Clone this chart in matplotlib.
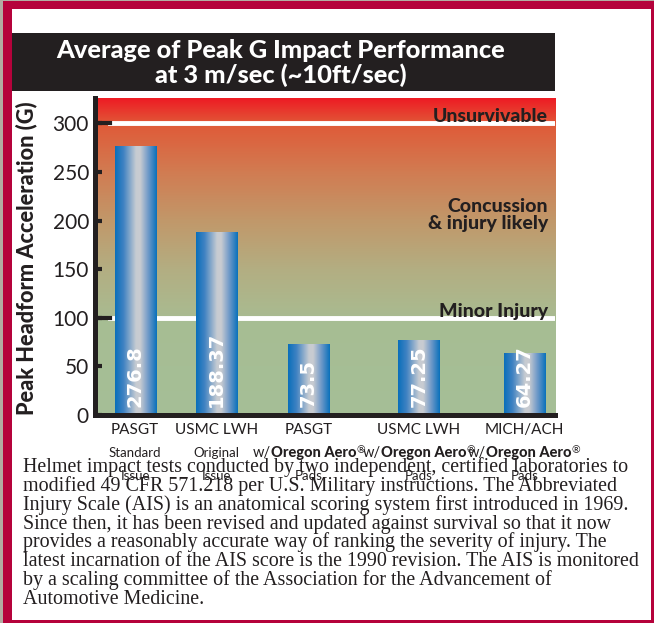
import matplotlib
matplotlib.use("Agg")
import matplotlib.pyplot as plt
import matplotlib.font_manager as fm
from matplotlib.colors import LinearSegmentedColormap
from matplotlib.patches import Rectangle
from matplotlib.offsetbox import TextArea, HPacker, AnnotationBbox
import numpy as np

# data
helmets = ["PASGT", "USMC LWH", "PASGT", "USMC LWH", "MICH/ACH"]
versions = ["Standard", "Original", "Oregon Aero", "Oregon Aero", "Oregon Aero"]
versions2 = ["Issue", "Issue", "Pads", "Pads", "Pads"]
peak_g = [276.8, 188.37, 73.5, 77.25, 64.27]
value_labels = ["276.8", "188.37", "73.5", "77.25", "64.27"]
y_ticks = [0, 50, 100, 150, 200, 250, 300]
zone_limits = [100, 300]
zone_names = ["Minor Injury", "Concussion\n& injury likely", "Unsurvivable"]
zone_label_y = [101, 191, 301]

paragraph = [
    "Helmet impact tests conducted by two independent, certified laboratories to",
    "modified 49 CFR 571.218 per U.S. Military instructions. The Abbreviated",
    "Injury Scale (AIS) is an anatomical scoring system first introduced in 1969.",
    "Since then, it has been revised and updated against survival so that it now",
    "provides a reasonably accurate way of ranking the severity of injury. The",
    "latest incarnation of the AIS score is the 1990 revision. The AIS is monitored",
    "by a scaling committee of the Association for the Advancement of",
    "Automotive Medicine.",
]

# uneven bar slots as in the original layout
xpos = [0.5, 1.5, 2.64, 4.0, 5.3]
XMAX, YMAX = 5.68, 326

W, H = 654, 623
ink = "#231f20"
crimson = "#b5023b"

names = {f.name for f in fm.fontManager.ttflist}
def pick(cands, fallback="DejaVu Sans"):
    for c in cands:
        if c in names:
            return c
    return fallback

sans = pick(["Lato", "Open Sans", "DejaVu Sans"])

fig = plt.figure(figsize=(W / 100, H / 100), dpi=100)
fig.patch.set_facecolor("#b3aba2")

def px_rect(x, y, w, h, color, z):
    r = Rectangle((x / W, 1 - (y + h) / H), w / W, h / H, transform=fig.transFigure,
                  facecolor=color, edgecolor="none", zorder=z)
    fig.add_artist(r)

px_rect(3, 1, 651, 622, crimson, -10)
px_rect(12, 9, 639, 611, "white", -9)
px_rect(12, 33, 543, 58, ink, -8)

fig.text(281 / W, 1 - 50 / H, "Average of Peak G Impact Performance", ha="center", va="center",
         color="white", fontsize=18.3, fontweight="black", family=sans)
fig.text(281 / W, 1 - 75 / H, "at 3 m/sec (~10ft/sec)", ha="center", va="center",
         color="white", fontsize=18.3, fontweight="black", family=sans)

ax = fig.add_axes([94.5 / W, 1 - 415 / H, 460.5 / W, 317 / H])

# background zones
bg = LinearSegmentedColormap.from_list("zones", [
    (0.0, "#a5bf97"), (98 / YMAX, "#a7bd93"), (100 / YMAX, "#a9bb91"),
    (150 / YMAX, "#b3ae82"), (200 / YMAX, "#c1986a"), (250 / YMAX, "#d17c52"),
    (300 / YMAX, "#e05a38"), (1.0, "#ee1c24")])
ax.imshow(np.linspace(0, 1, 500).reshape(-1, 1), extent=[0, XMAX, 0, YMAX], origin="lower",
          aspect="auto", cmap=bg, zorder=0)

for y in zone_limits:
    ax.axhline(y, xmin=15 / 460, xmax=1, color="white", lw=3.5, zorder=1)
    ax.axhline(y, xmin=0, xmax=15 / 460, color=ink, lw=3, zorder=3)

for name, y in zip(zone_names, zone_label_y):
    ax.text(0.985, y, name, transform=ax.get_yaxis_transform(), ha="right", va="baseline",
            fontsize=14, fontweight="black", family=sans, color=ink, linespacing=1.0, zorder=4)

# bars with metallic blue gradient
bar_cmap = LinearSegmentedColormap.from_list("steel", [
    (0.0, "#0a6fba"), (0.2, "#3f82c2"), (0.5, "#c6cbd2"), (0.6, "#c9ccd1"),
    (0.8, "#6d98c8"), (1.0, "#0a71bb")])
bars = ax.bar(xpos, peak_g, width=0.506, color="none", zorder=2)
for b in bars:
    im = ax.imshow(np.linspace(0, 1, 200).reshape(1, -1),
                   extent=[b.get_x(), b.get_x() + b.get_width(), 0, b.get_height()],
                   aspect="auto", cmap=bar_cmap, zorder=2)
    im.set_clip_path(b)

for x, lab in zip(xpos, value_labels):
    ax.text(x, 8, lab, rotation=90, ha="center", va="bottom", color="white",
            fontsize=14, fontweight="bold", family="DejaVu Sans", zorder=4)

ax.set_xlim(0, XMAX)
ax.set_ylim(0, YMAX)

for s in ["top", "right"]:
    ax.spines[s].set_visible(False)
for s in ["left", "bottom"]:
    ax.spines[s].set_linewidth(3.6)
    ax.spines[s].set_color(ink)
    ax.spines[s].set_zorder(5)

ax.set_yticks(y_ticks)
ax.tick_params(axis="y", direction="in", length=5, width=3, color=ink, labelsize=15,
               labelcolor=ink, pad=4)
for t in ax.get_yticklabels():
    t.set_family(sans)

ax.set_xticks(xpos, helmets)
ax.tick_params(axis="x", length=0, pad=6, labelsize=11, labelcolor=ink)
for t in ax.get_xticklabels():
    t.set_family(sans)

ax.set_ylabel("Peak Headform Acceleration (G)", fontsize=15.7, fontweight="black", color=ink,
              family=sans)
ax.yaxis.set_label_coords(-0.125, 0.495)

xt = ax.get_xaxis_transform()
for x, v, v2 in zip(xpos, versions, versions2):
    if v == "Oregon Aero":
        box = HPacker(children=[
            TextArea("w/", textprops=dict(fontsize=10.5, family=sans, color=ink)),
            TextArea(v, textprops=dict(fontsize=10.5, family=sans, fontweight="black", color=ink)),
            TextArea("®", textprops=dict(fontsize=7.5, family=sans, color=ink)),
        ], align="top", pad=0, sep=0)
        ax.add_artist(AnnotationBbox(box, (x, -0.12), xycoords=xt, frameon=False,
                                     box_alignment=(0.5, 0.5), pad=0, annotation_clip=False))
    else:
        ax.text(x, -0.12, v, transform=xt, ha="center", va="center", fontsize=9.5,
                family=sans, color=ink)
    ax.text(x, -0.192, v2, transform=xt, ha="center", va="center", fontsize=9.5,
            family=sans, color=ink)

for i, line in enumerate(paragraph):
    fig.text(23 / W, 1 - (472 + i * 18.86) / H, line, ha="left", va="baseline",
             fontsize=14.4, family="Liberation Serif", color=ink, zorder=6)

fig.savefig("out.png", dpi=100, facecolor=fig.get_facecolor())
